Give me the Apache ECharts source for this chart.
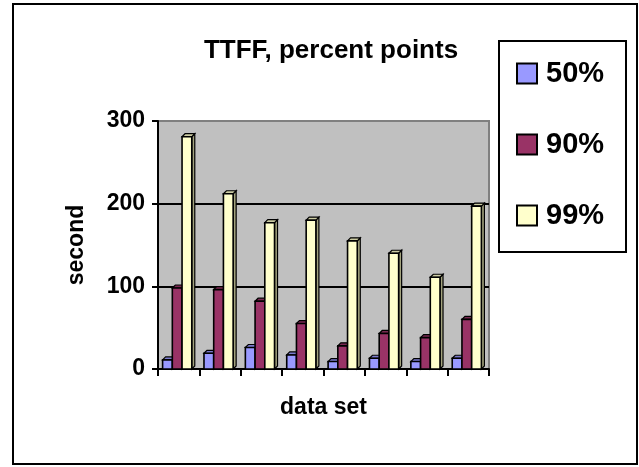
<!DOCTYPE html>
<html>
<head>
<meta charset="utf-8">
<script src="https://cdn.jsdelivr.net/npm/echarts@6/dist/echarts.min.js"></script>
<style>
  html, body { margin: 0; padding: 0; background: #fff; }
  #chart { width: 639px; height: 467px; }
</style>
</head>
<body>
<div id="chart"></div>
<script>
// TTFF percentile points (seconds) for each data set
const dataSets = ['1', '2', '3', '4', '5', '6', '7', '8'];
const p50 = [11, 19, 26, 17, 9, 13, 9, 13];
const p90 = [98, 96, 82, 55, 28, 43, 38, 60];
const p99 = [281, 212, 177, 180, 155, 140, 111, 197];
const seriesNames = ['50%', '90%', '99%'];
const yTicks = [0, 100, 200, 300];

const FONT = 'Liberation Sans, Arial, sans-serif';

// front / side / top face colours for each series
const faces = [
  { front: '#9999FF', side: '#6B6BB3', top: '#7A7ACC' },
  { front: '#993366', side: '#6B2447', top: '#7A2952' },
  { front: '#FFFFCC', side: '#A3A37E', top: '#CCCCA3' }
];

// draws a column with a shallow 3-D top and right side
function column3d(idx) {
  const f = faces[idx];
  return function (params, api) {
    const cat = api.value(0);
    const val = api.value(1);
    const base = api.coord([cat, 0]);
    const tip = api.coord([cat, val]);
    const cw = api.size([1, 0])[0];
    const bw = cw * 0.235;
    const d = 3;
    const x0 = base[0] - 1.5 * bw - d / 2 + idx * bw;
    const yb = base[1];
    const yt = tip[1];
    return {
      type: 'group',
      children: [
        {
          type: 'polygon',
          shape: { points: [[x0 + bw, yt], [x0 + bw + d, yt - d], [x0 + bw + d, yb - d], [x0 + bw, yb]] },
          style: { fill: f.side, stroke: '#000', lineWidth: 1.2 }
        },
        {
          type: 'polygon',
          shape: { points: [[x0, yt], [x0 + d, yt - d], [x0 + bw + d, yt - d], [x0 + bw, yt]] },
          style: { fill: f.top, stroke: '#000', lineWidth: 1.2 }
        },
        {
          type: 'rect',
          shape: { x: x0, y: yt, width: bw, height: yb - yt },
          style: { fill: f.front, stroke: '#000', lineWidth: 1.6 }
        }
      ]
    };
  };
}

const values = [p50, p90, p99];
const series = values.map((arr, idx) => ({
  name: seriesNames[idx],
  type: 'custom',
  renderItem: column3d(idx),
  encode: { x: 0, y: 1 },
  itemStyle: { color: faces[idx].front, borderColor: '#000', borderWidth: 1.5 },
  data: arr.map((v, i) => [i, v]),
  z: 3
}));

const chart = echarts.init(document.getElementById('chart'), null, { renderer: 'canvas' });
chart.setOption({
  animation: false,
  backgroundColor: '#fff',
  title: {
    text: 'TTFF, percent points',
    left: 326,
    top: 33,
    textAlign: 'center',
    textStyle: { fontFamily: FONT, fontWeight: 'bold', fontSize: 26, color: '#000' }
  },
  graphic: [
    {
      type: 'rect',
      shape: { x: 13, y: 4, width: 624, height: 460 },
      style: { fill: 'none', stroke: '#000', lineWidth: 2 },
      silent: true
    },
    {
      type: 'rect',
      shape: { x: 499, y: 41, width: 127, height: 211 },
      style: { fill: '#fff', stroke: '#000', lineWidth: 2 },
      silent: true,
      z: 0
    }
  ],
  legend: {
    orient: 'vertical',
    left: 511,
    top: 54,
    itemWidth: 20,
    itemHeight: 20,
    itemGap: 42,
    icon: 'rect',
    textStyle: { fontFamily: FONT, fontWeight: 'bold', fontSize: 29, color: '#000', padding: [0, 0, 0, 4] },
    data: seriesNames,
    z: 5
  },
  grid: {
    left: 158,
    right: 150,
    top: 121,
    bottom: 98,
    show: true,
    backgroundColor: '#C0C0C0',
    borderColor: '#808080',
    borderWidth: 2
  },
  xAxis: {
    type: 'category',
    data: dataSets,
    name: 'data set',
    nameLocation: 'middle',
    nameGap: 27,
    nameTextStyle: { fontFamily: FONT, fontWeight: 'bold', fontSize: 23, color: '#000' },
    boundaryGap: true,
    axisLine: { show: true, lineStyle: { color: '#000', width: 2 } },
    axisTick: { show: true, length: 7, interval: 0, lineStyle: { color: '#000', width: 2 } },
    axisLabel: { show: false },
    splitLine: { show: false }
  },
  yAxis: {
    type: 'value',
    min: yTicks[0],
    max: yTicks[yTicks.length - 1],
    interval: 100,
    name: 'second',
    nameLocation: 'middle',
    nameRotate: 90,
    nameGap: 70,
    nameTextStyle: { fontFamily: FONT, fontWeight: 'bold', fontSize: 23, color: '#000' },
    axisLine: { show: true, lineStyle: { color: '#000', width: 2 } },
    axisTick: { show: true, length: 6, lineStyle: { color: '#000', width: 2 } },
    axisLabel: { fontFamily: FONT, fontWeight: 'bold', fontSize: 23, color: '#000', margin: 13 },
    splitLine: { show: true, lineStyle: { color: ['#000', '#000', '#000', '#808080'], width: 2 } }
  },
  series: series
});
</script>
</body>
</html>
